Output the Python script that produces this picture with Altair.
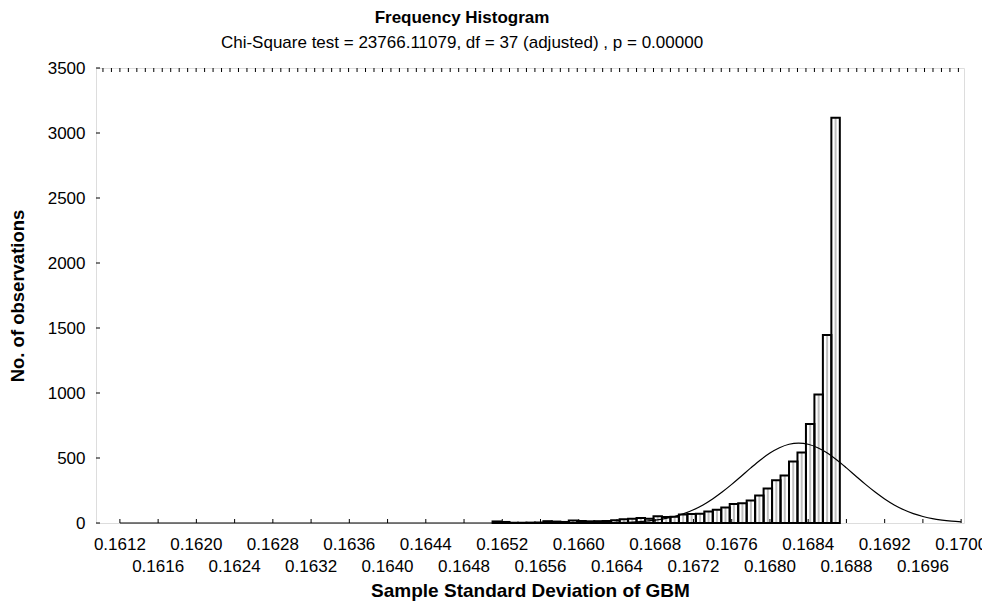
import altair as alt
import pandas as pd

# ---------------- data ----------------
# histogram bins: bin k spans X0 + k*W .. X0 + (k+1)*W
X0 = 0.1612
W = 0.0000886
bin_index = list(range(44, 85))
counts = [12, 8, 2, 2, 3, 4, 14, 11, 8, 20, 16, 13, 14, 16, 22, 28, 33, 38, 32,
          52, 47, 48, 65, 69, 72, 89, 102, 120, 146, 151, 174, 212, 266, 328,
          366, 474, 543, 761, 989, 1446, 3118]

# fitted normal curve
curve_x = [0.1612, 0.1640, 0.1656, 0.1657, 0.1658, 0.1659, 0.1660, 0.1661, 0.1662,
           0.1663, 0.1664, 0.1665, 0.1666, 0.1667, 0.1668, 0.1669, 0.1670, 0.1671,
           0.1672, 0.1673, 0.1674, 0.1675, 0.1676, 0.1677, 0.1678, 0.1679, 0.1680,
           0.1681, 0.1682, 0.1683, 0.1684, 0.1685, 0.1686, 0.1687, 0.1688, 0.1689,
           0.1690, 0.1691, 0.1692, 0.1693, 0.1694, 0.1695, 0.1696, 0.1697, 0.1698,
           0.1699, 0.1700]
curve_y = [0, 0, 0, 0, 0, 0, 0, 1, 1, 2, 3, 5, 8, 14, 22, 33, 50, 72, 102, 139,
           185, 238, 297, 360, 424, 485, 538, 579, 606, 615, 606, 579, 538, 485,
           424, 360, 297, 238, 185, 139, 102, 72, 50, 33, 22, 14, 8]

x_ticks = [0.1612, 0.1616, 0.1620, 0.1624, 0.1628, 0.1632, 0.1636, 0.1640,
           0.1644, 0.1648, 0.1652, 0.1656, 0.1660, 0.1664, 0.1668, 0.1672,
           0.1676, 0.1680, 0.1684, 0.1688, 0.1692, 0.1696, 0.1700]
y_ticks = [0, 500, 1000, 1500, 2000, 2500, 3000, 3500]
edge_index = list(range(-2, 100))

# ---------------- tables ----------------
bars = pd.DataFrame({"k": bin_index, "count": counts})
bars["lo"] = X0 + bars["k"] * W
bars["hi"] = bars["lo"] + W
bars["mid"] = bars["lo"] + W / 2
bars["zero"] = 0

curve = pd.DataFrame({"x": curve_x, "y": curve_y})
xt = pd.DataFrame({"v": x_ticks})
yt = pd.DataFrame({"v": y_ticks})
edges = pd.DataFrame({"v": [X0 + k * W for k in edge_index]})
row1 = pd.DataFrame({"v": x_ticks[0::2]})
row1["label"] = ["%.4f" % v for v in row1["v"]]
row2 = pd.DataFrame({"v": x_ticks[1::2]})
row2["label"] = ["%.4f" % v for v in row2["v"]]

W_PLOT, H_PLOT = 868, 455
FONT = "Liberation Sans"

xs = alt.Scale(domain=[0.16095, 0.17003], nice=False, zero=False)
ys = alt.Scale(domain=[0, 3500], nice=False)

x_axis = alt.Axis(title="Sample Standard Deviation of GBM",
                  labels=False, ticks=False, domain=False, grid=False,
                  titleFontSize=19, titleFont=FONT, titleFontWeight="bold",
                  titleColor="black", titlePadding=58)
y_axis = alt.Axis(values=y_ticks, title="No. of observations", format="d",
                  ticks=False, domain=False, grid=False,
                  labelPadding=11, labelFontSize=17, labelFont=FONT,
                  labelColor="black", titleFontSize=18.5, titleFont=FONT,
                  titleFontWeight="bold", titleColor="black", titlePadding=20)

fill = alt.Chart(bars).mark_rect(fill="white", strokeWidth=0).encode(
    x=alt.X("lo:Q", scale=xs, axis=x_axis),
    x2="hi:Q",
    y=alt.Y("count:Q", scale=ys, axis=y_axis),
    y2="zero:Q",
)
stripe = alt.Chart(bars).mark_rule(color="#bfbfbf", strokeWidth=2).encode(
    x=alt.X("mid:Q", scale=xs),
    y=alt.Y("count:Q", scale=ys),
    y2="zero:Q",
)
outline = alt.Chart(bars).mark_rect(fill=None, stroke="black", strokeWidth=2).encode(
    x=alt.X("lo:Q", scale=xs),
    x2="hi:Q",
    y=alt.Y("count:Q", scale=ys),
    y2="zero:Q",
)
line = alt.Chart(curve).mark_line(color="black", strokeWidth=1.2,
                                  interpolate="monotone").encode(
    x=alt.X("x:Q", scale=xs),
    y=alt.Y("y:Q", scale=ys),
)
bottom_ticks = alt.Chart(xt).mark_rule(color="black", strokeWidth=1).encode(
    x=alt.X("v:Q", scale=xs),
    y=alt.value(H_PLOT),
    y2=alt.value(H_PLOT - 4),
)
left_ticks = alt.Chart(yt).mark_rule(color="black", strokeWidth=1).encode(
    y=alt.Y("v:Q", scale=ys),
    x=alt.value(0),
    x2=alt.value(4),
)
top_ticks = alt.Chart(edges).mark_rule(color="black", strokeWidth=1).encode(
    x=alt.X("v:Q", scale=xs),
    y=alt.value(0),
    y2=alt.value(4),
)
labels1 = alt.Chart(row1).mark_text(font=FONT, fontSize=17, color="black",
                                    baseline="alphabetic", align="center").encode(
    x=alt.X("v:Q", scale=xs),
    y=alt.value(H_PLOT + 27),
    text="label:N",
)
labels2 = alt.Chart(row2).mark_text(font=FONT, fontSize=17, color="black",
                                    baseline="alphabetic", align="center").encode(
    x=alt.X("v:Q", scale=xs),
    y=alt.value(H_PLOT + 49),
    text="label:N",
)

chart = alt.layer(
    fill, stripe, outline, line, bottom_ticks, left_ticks, top_ticks, labels1, labels2
).properties(
    width=W_PLOT,
    height=H_PLOT,
    autosize=alt.AutoSizeParams(type="none"),
    padding={"left": 88, "top": 60, "right": 18, "bottom": 79},
    title=alt.TitleParams(
        text="Frequency Histogram",
        subtitle="Chi-Square test = 23766.11079, df = 37 (adjusted) , p = 0.00000",
        font=FONT, fontSize=17, fontWeight="bold", color="black",
        subtitleFont=FONT, subtitleFontSize=17, subtitleColor="black",
        subtitlePadding=8, anchor="middle", frame="group", dx=-68, offset=7,
    ),
).configure_view(stroke="black", strokeWidth=1).configure(background="white")

chart.save("out.html", embed_options={"renderer": "svg", "actions": False})
